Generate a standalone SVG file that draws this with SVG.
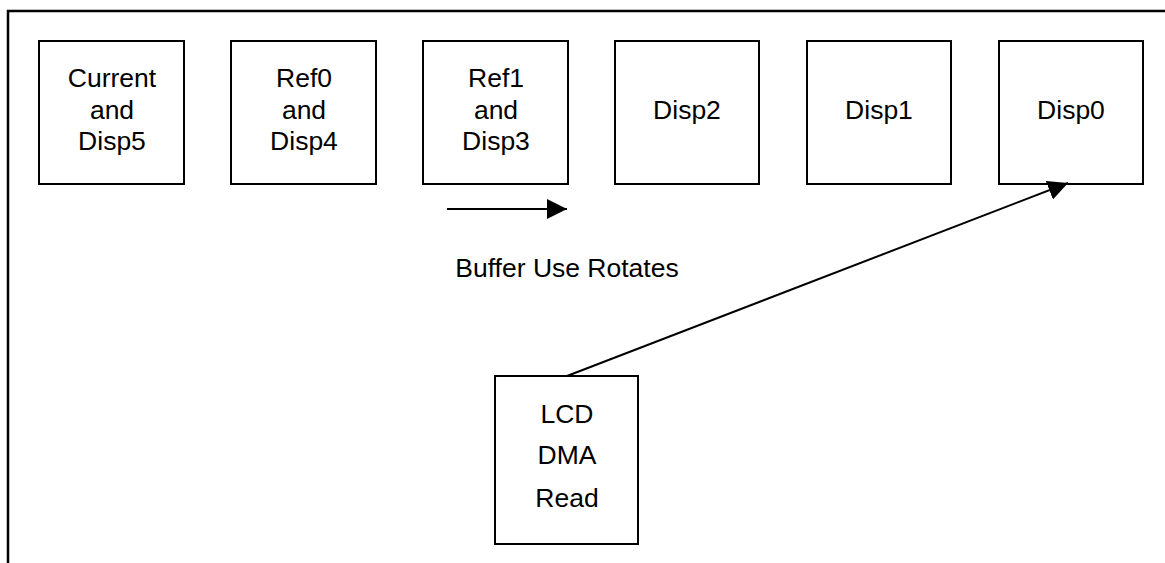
<svg xmlns="http://www.w3.org/2000/svg" width="1165" height="563" viewBox="0 0 1165 563">
<style>
.box{fill:#fff;stroke:#000;stroke-width:2}
.t{font-family:"Liberation Sans",Arial,sans-serif;font-size:26.5px;fill:#000;text-anchor:middle}
.frame{stroke:#000;stroke-width:2.5;fill:none}
.conn{stroke:#000;stroke-width:2;fill:none}
</style>
<defs>
<marker id="ah" viewBox="0 0 20 20" refX="20" refY="10" markerWidth="20" markerHeight="20" markerUnits="userSpaceOnUse" orient="auto">
<path d="M0,0 L20,10 L0,20 Z" fill="#000"/>
</marker>
</defs>
<rect width="1165" height="563" fill="#fff"/>
<path class="frame" d="M8,563 L8,11 L1165,11"/>
<g id="n-current">
<rect class="box" x="39" y="41" width="145" height="143"/>
<text class="t" x="112" y="87">Current</text>
<text class="t" x="112" y="119">and</text>
<text class="t" x="112" y="150">Disp5</text>
</g>
<g id="n-ref0">
<rect class="box" x="231" y="41" width="145" height="143"/>
<text class="t" x="304" y="87">Ref0</text>
<text class="t" x="304" y="119">and</text>
<text class="t" x="304" y="150">Disp4</text>
</g>
<g id="n-ref1">
<rect class="box" x="423" y="41" width="145" height="143"/>
<text class="t" x="496" y="87">Ref1</text>
<text class="t" x="496" y="119">and</text>
<text class="t" x="496" y="150">Disp3</text>
</g>
<g id="n-disp2">
<rect class="box" x="615" y="41" width="144" height="143"/>
<text class="t" x="687" y="119">Disp2</text>
</g>
<g id="n-disp1">
<rect class="box" x="807" y="41" width="144" height="143"/>
<text class="t" x="879" y="119">Disp1</text>
</g>
<g id="n-disp0">
<rect class="box" x="999" y="41" width="144" height="143"/>
<text class="t" x="1071" y="119">Disp0</text>
</g>
<g id="n-lcd">
<rect class="box" x="495" y="376" width="143" height="168"/>
<text class="t" x="567" y="423">LCD</text>
<text class="t" x="567" y="464">DMA</text>
<text class="t" x="567" y="507">Read</text>
</g>
<g id="label-rotates">
<text class="t" x="567" y="277">Buffer Use Rotates</text>
</g>
<g id="connectors">
<line class="conn" x1="447" y1="209" x2="567" y2="209" marker-end="url(#ah)"/>
<line class="conn" x1="567" y1="376" x2="1068" y2="183" marker-end="url(#ah)"/>
</g>
</svg>
